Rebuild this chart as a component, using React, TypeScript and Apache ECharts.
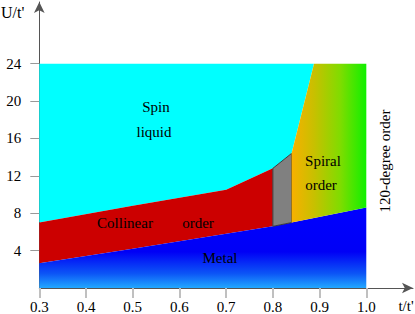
import React, { useEffect, useRef } from "react";
import * as echarts from "echarts";

// Phase boundaries (x = t/t', y = U/t')
const metalRegion: number[][] = [[0.3, 0], [0.3, 2.65], [0.5, 4.2], [0.8, 6.6], [0.84, 7.0], [1.0, 8.6], [1.0, 0]];
const collinearRegion: number[][] = [[0.3, 2.65], [0.5, 4.2], [0.8, 6.6], [0.8, 12.8], [0.7, 10.5], [0.5, 8.8], [0.3, 7.0]];
const spinLiquidRegion: number[][] = [[0.3, 7.0], [0.5, 8.8], [0.7, 10.5], [0.8, 12.8], [0.84, 14.4], [0.888, 24], [0.3, 24]];
const grayRegion: number[][] = [[0.8, 6.6], [0.8, 12.8], [0.84, 14.4], [0.84, 7.0]];
const spiralRegion: number[][] = [[0.84, 7.0], [0.84, 14.4], [0.888, 24], [1.0, 24], [1.0, 8.6]];

const xTicks = [0.3, 0.4, 0.5, 0.6, 0.7, 0.8, 0.9, 1.0];
const yTicks = [4, 8, 12, 16, 20, 24];

const FONT = "Liberation Serif";

export default function App() {
  const ref = useRef<HTMLDivElement>(null);
  useEffect(() => {
    if (!ref.current) return;
    const chart = echarts.init(ref.current, null, { renderer: "svg" });

    const regions = [
      { pts: spinLiquidRegion, style: { fill: "#00ffff" } },
      { pts: collinearRegion, style: { fill: "#cc0000" } },
      {
        pts: metalRegion,
        style: {
          fill: new echarts.graphic.LinearGradient(0, 0, 0, 1, [
            { offset: 0, color: "#0000ff" },
            { offset: 0.55, color: "#0000f6" },
            { offset: 0.82, color: "#0c55f6" },
            { offset: 1, color: "#22a8ff" },
          ]),
        },
      },
      { pts: grayRegion, style: { fill: "#808080", stroke: "#3a3a3a", lineWidth: 1 } },
      {
        pts: spiralRegion,
        style: {
          fill: new echarts.graphic.LinearGradient(0, 0, 1, 0, [
            { offset: 0, color: "#f8b000" },
            { offset: 0.3, color: "#c8c000" },
            { offset: 0.65, color: "#80dc00" },
            { offset: 1, color: "#10f000" },
          ]),
        },
      },
    ];

    const label = (text: string, x: number, y: number, extra: any = {}) => ({
      type: "text",
      x,
      y,
      z: 100,
      style: {
        text,
        fill: "#000",
        fontSize: 15,
        fontFamily: FONT,
        align: "center",
        verticalAlign: "middle",
      },
      ...extra,
    });

    chart.setOption({
      animation: false,
      grid: { left: 39.3, right: 2, top: 2, bottom: 25, containLabel: false },
      xAxis: {
        type: "value",
        min: 0.3,
        max: 1.1,
        splitLine: { show: false },
        axisLine: {
          show: true,
          onZero: false,
          symbol: ["none", "arrow"],
          symbolSize: [8, 11],
          lineStyle: { color: "#555", width: 1 },
        },
        axisTick: {
          show: true,
          customValues: xTicks,
          length: 10,
          lineStyle: { color: "#c0c0c0", width: 2 },
        },
        axisLabel: {
          customValues: xTicks,
          margin: 11,
          color: "#000",
          fontSize: 15,
          fontFamily: FONT,
          formatter: (v: number) => v.toFixed(1),
        },
      },
      yAxis: {
        type: "value",
        min: 0,
        max: 30.6,
        splitLine: { show: false },
        axisLine: {
          show: true,
          onZero: false,
          symbol: ["none", "arrow"],
          symbolSize: [8, 11],
          lineStyle: { color: "#555", width: 1 },
        },
        axisTick: {
          show: true,
          customValues: yTicks,
          length: 9,
          lineStyle: { color: "#999", width: 1 },
        },
        axisLabel: {
          customValues: yTicks,
          margin: 18,
          color: "#000",
          fontSize: 15,
          fontFamily: FONT,
        },
      },
      series: [
        {
          type: "custom",
          coordinateSystem: "cartesian2d",
          data: regions.map((_, i) => [i]),
          silent: true,
          z: 1,
          renderItem: (params: any, api: any) => {
            const r = regions[params.dataIndex];
            return {
              type: "polygon",
              shape: { points: r.pts.map((p) => api.coord(p)) },
              style: r.style,
            };
          },
        },
      ],
      graphic: [
        label("Spin", 156, 107),
        label("liquid", 154, 132),
        label("Collinear", 125, 223),
        label("order", 198, 223),
        label("Metal", 220, 258),
        label("Spiral", 323, 161),
        label("order", 321, 185),
        label("120-degree order", 385, 161, { rotation: Math.PI / 2 }),
        {
          type: "text",
          x: 1,
          y: 12,
          style: {
            text: "U/t'",
            fill: "#000",
            fontSize: 16,
            fontFamily: FONT,
            align: "left",
            verticalAlign: "middle",
          },
        },
        {
          type: "text",
          x: 406,
          y: 306,
          style: {
            text: "t/t'",
            fill: "#000",
            fontSize: 15,
            fontFamily: FONT,
            align: "center",
            verticalAlign: "middle",
          },
        },
      ],
    });
    return () => chart.dispose();
  }, []);
  return (
    <div
      ref={ref}
      style={{ position: "fixed", left: 0, top: 0, width: 415, height: 314, background: "#fff" }}
    />
  );
}
